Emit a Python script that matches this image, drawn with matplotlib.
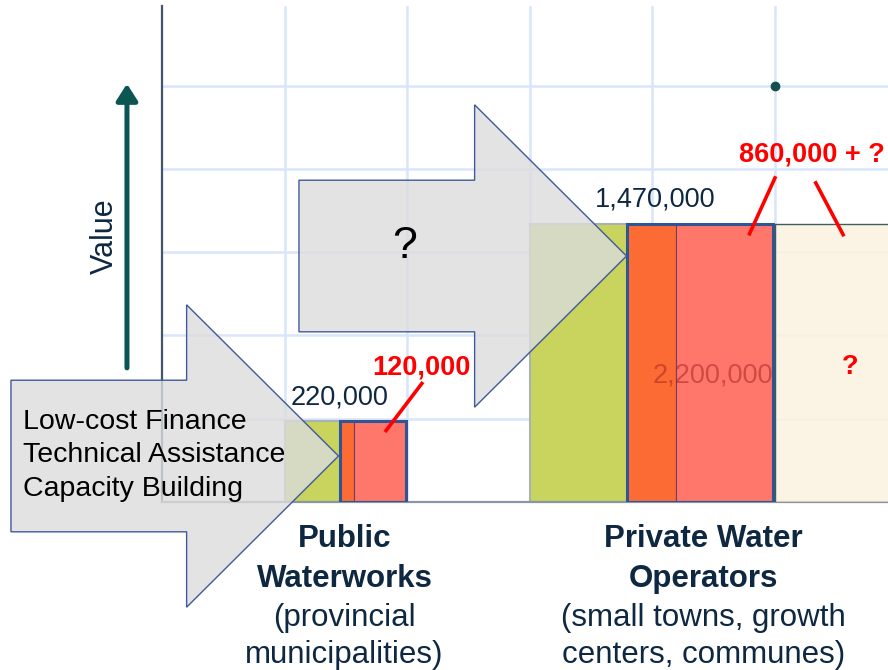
import matplotlib
matplotlib.use("Agg")
import matplotlib.pyplot as plt
from matplotlib.patches import FancyArrow, Rectangle

plt.rcParams['font.family'] = ['Liberation Sans', 'DejaVu Sans']

# gruplar (sematik, izgara birimi)
kategoriler = [["Public", "Waterworks"], ["Private Water", "Operators"]]
alt_yazilar = [["(provincial", "municipalities)"], ["(small towns, growth", "centers, communes)"]]
toplam_etiket = ["220,000", "1,470,000"]
ek_etiket = ["120,000", "860,000 + ?"]
grup_bas = [1.0, 3.0]
yukseklik = [0.97, 3.34]
yesil_gen = [0.453, 0.796]
turuncu_gen = [0.114, 0.40]
somon_gen = [0.423, 0.792]
etiket_x = [1.453, 4.03]
kategori_x = [1.49, 4.42]
arrow_text = "Low-cost Finance\nTechnical Assistance\nCapacity Building"

lacivert = '#0E2841'

fig = plt.figure(figsize=(8.88, 6.70), dpi=100)
ax = fig.add_axes([162/888, (670-502)/670, (888-162)/888, (502-6)/670])
ax.set_xlim(0, 726/122.5)
ax.set_ylim(0, 496/83.3)
ax.set_xticks(range(1, 6))
ax.set_yticks(range(1, 6))
ax.tick_params(length=0, labelbottom=False, labelleft=False)
ax.grid(True, color='#D8E5FA', lw=1.8)
ax.set_axisbelow(True)
for s in ['top', 'right']:
    ax.spines[s].set_visible(False)
ax.spines['left'].set_color('#44546A')
ax.spines['left'].set_linewidth(1.6)
ax.spines['bottom'].set_color('#8C96A2')
ax.spines['bottom'].set_linewidth(1.6)

satir_y = [-0.45, -0.93, -1.39, -1.835]
for i in range(2):
    x0 = grup_bas[i]
    h = yukseklik[i]
    ax.bar(x0, h, width=yesil_gen[i], align='edge', color='#C8D45E',
           edgecolor='#A8B0B8', lw=1.5, zorder=2)
    x1 = x0 + yesil_gen[i]
    ax.bar(x1, h, width=turuncu_gen[i], align='edge', color='#FD6B35',
           edgecolor='#7A3A5A', lw=0.8, zorder=2)
    x2 = x1 + turuncu_gen[i]
    ax.bar(x2, h, width=somon_gen[i], align='edge', color='#FF766A',
           edgecolor='#7A3A5A', lw=0.8, zorder=2)
    ax.add_patch(Rectangle((x1, 0), turuncu_gen[i] + somon_gen[i], h, fill=False,
                           edgecolor='#2F5597', lw=2.2, zorder=3))
    ax.text(etiket_x[i], h + 0.29, toplam_etiket[i], fontsize=19.5, color=lacivert,
            ha='center', va='center', zorder=6)
    satirlar = kategoriler[i] + alt_yazilar[i]
    for j, s in enumerate(satirlar):
        ax.text(kategori_x[i], satir_y[j], s, fontsize=22.5,
                fontweight='bold' if j < 2 else 'normal', color=lacivert,
                ha='center', va='center', clip_on=False)

# soluk metin ve bej kutu
ax.text(4.5, 1.52, "2,200,000", fontsize=19.5, color='#A02020', alpha=0.5,
        ha='center', va='center', zorder=3.5)
ax.bar(5.0, yukseklik[1], width=1.5, align='edge', color='#FBF2E0', alpha=0.9,
       edgecolor='#274E4E', lw=1.0, zorder=4)
ax.text(5.616, 1.62, "?", fontsize=19.5, fontweight='bold', color='#FF0000',
        ha='center', va='center', zorder=6, clip_on=False)

# kirmizi etiketler
ax.text(2.114, 1.61, ek_etiket[0], fontsize=19.5, fontweight='bold', color='#FF0000',
        ha='center', va='center', zorder=6)
ax.plot([1.82, 2.13], [0.84, 1.44], color='#FF0000', lw=2.6, zorder=6,
        solid_capstyle='butt')
ax.text(4.71, 4.166, ek_etiket[1], fontsize=19.5, fontweight='bold', color='#FF0000',
        ha='left', va='center', zorder=6, clip_on=False)
ax.plot([5.01, 4.79], [3.91, 3.2], color='#FF0000', lw=2.6, zorder=6,
        solid_capstyle='butt', clip_on=False)
ax.plot([5.33, 5.567], [3.85, 3.19], color='#FF0000', lw=2.6, zorder=6,
        solid_capstyle='butt', clip_on=False)

# gri oklar
for (x, y) in [(-1.233, 0.552), (1.118, 2.953)]:
    ok = FancyArrow(x, y, 2.674, 0, width=1.82, head_width=3.63, head_length=1.24,
                    length_includes_head=True, facecolor='#DCDCDC', alpha=0.8,
                    edgecolor='none', zorder=5, clip_on=False)
    ax.add_patch(ok)
    ok2 = FancyArrow(x, y, 2.674, 0, width=1.82, head_width=3.63, head_length=1.24,
                     length_includes_head=True, fill=False,
                     edgecolor='#3F5A9A', lw=1.0, zorder=5.1, clip_on=False)
    ax.add_patch(ok2)

ax.text(1.98, 3.07, "?", fontsize=32, color='black', ha='center', va='center', zorder=6)
ax.text(-1.135, 0.56, arrow_text, fontsize=20.5, color='black', ha='left', va='center',
        linespacing=1.36, zorder=6, clip_on=False)

# deger ekseni oku
ax.annotate('', xy=(-0.286, 5.02), xytext=(-0.286, 1.61),
            arrowprops=dict(arrowstyle='-|>,head_length=0.5,head_width=0.32',
                            color='#0B5553', lw=3.6, mutation_scale=20,
                            shrinkA=0, shrinkB=0),
            annotation_clip=False)
ax.text(-0.465, 3.19, "Value", fontsize=22, color=lacivert, rotation=90,
        ha='center', va='center', clip_on=False)
ax.plot(5.0, 4.99, 'o', ms=6, color='#134F4F', zorder=6, clip_on=False)

fig.savefig("out.png", dpi=100)
